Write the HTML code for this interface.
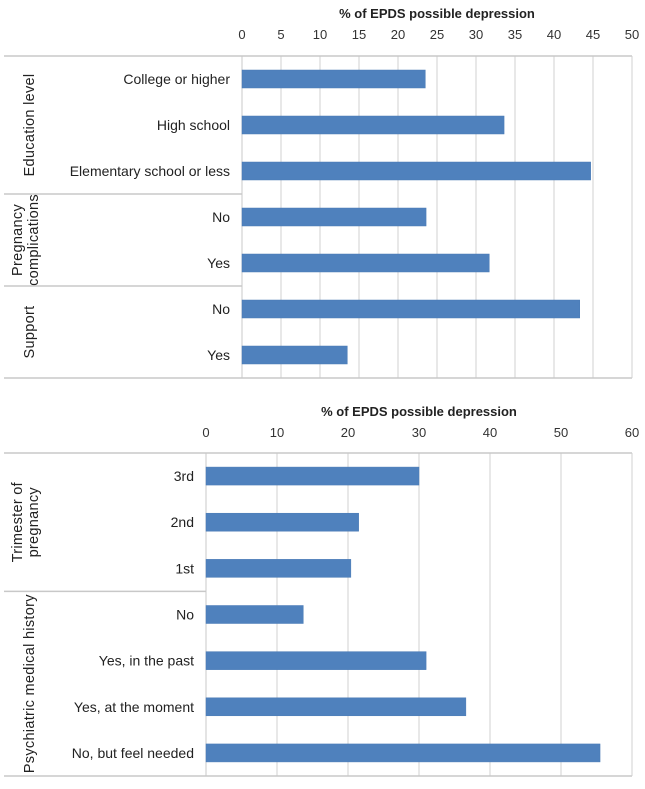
<!DOCTYPE html>
<html><head><meta charset="utf-8"><style>
body{margin:0;background:#fff;width:645px;height:784px;overflow:hidden}
svg{font-family:"Liberation Sans",sans-serif;}
</style></head><body>
<svg id="c" width="645" height="784"></svg>
<script>
const topCats=["College or higher","High school","Elementary school or less","No","Yes","No","Yes"];
const topVals=[23.5,33.6,44.7,23.6,31.7,43.3,13.5];
const topTicks=[0,5,10,15,20,25,30,35,40,45,50];
const topGroups=["Education level","Pregnancy|complications","Support"];
const topGroupSizes=[3,2,2];
const botCats=["3rd","2nd","1st","No","Yes, in the past","Yes, at the moment","No, but feel needed"];
const botVals=[30.0,21.5,20.4,13.7,31.0,36.6,55.5];
const botTicks=[0,10,20,30,40,50,60];
const botGroups=["Trimester of|pregnancy","Psychiatric medical history"];
const botGroupSizes=[3,4];
const NS="http://www.w3.org/2000/svg";
const svg=document.getElementById('c');
function mk(t,a,p){const e=document.createElementNS(NS,t);for(const k in a)e.setAttribute(k,a[k]);(p||svg).appendChild(e);return e;}
function chart(id,cats,vals,ticks,groups,sizes,x0,x1,titleY,tickY,top,bot){
  const g=mk('g',{});
  
  
  const max=ticks[ticks.length-1];
  const xs=v=>x0+(x1-x0)*v/max;
  const rh=(bot-top)/cats.length;
  const t=mk('text',{x:(x0+x1)/2,y:titleY,'text-anchor':'middle','font-size':13,'font-weight':'bold',fill:'#222'},g);
  t.textContent='% of EPDS possible depression';
  
  
  ticks.forEach(v=>{
    const x=xs(v);
    if(v>0){const l=mk('line',{x1:x,x2:x,y1:top,y2:bot,stroke:'#d0d0d0','stroke-width':1},g);
      
      }
    const tt=mk('text',{x:x,y:tickY,'text-anchor':'middle','font-size':13,fill:'#333'},g);
    tt.textContent=v;
    
    
  });
  mk('line',{x1:4,x2:x1,y1:top,y2:top,stroke:'#c8c8c8','stroke-width':1.5},g);
  mk('line',{x1:4,x2:x1,y1:bot,y2:bot,stroke:'#c8c8c8','stroke-width':1.5},g);
  mk('line',{x1:x1,x2:x1,y1:top,y2:bot,stroke:'#d0d0d0','stroke-width':1},g);
  mk('line',{x1:x0,x2:x0,y1:top,y2:bot,stroke:'#c8c8c8','stroke-width':1},g);
  cats.forEach((c,i)=>{
    const cy=top+rh*(i+0.5);
    const b=mk('rect',{x:x0,y:cy-9,width:xs(vals[i])-x0,height:18,fill:'#4f81bd',stroke:'#4a7ab5','stroke-width':0.5},g);
    
    
    const l=mk('text',{x:x0-12,y:cy+5,'text-anchor':'end','font-size':14,fill:'#222'},g);
    l.textContent=c;
    
    
  });
  let start=0;
  groups.forEach((gn,k)=>{
    const y0=top+start*rh, y1=top+(start+sizes[k])*rh;
    if(k>0)mk('line',{x1:4,x2:x0,y1:y0,y2:y0,stroke:'#c8c8c8','stroke-width':1.5},g);
    const lines=gn.split('|');
    const cy=(y0+y1)/2;
    lines.forEach((ln,j)=>{
      const x=lines.length===1?34:22+j*16;
      const tx=mk('text',{x:x,y:cy,'text-anchor':'middle','font-size':14.5,fill:'#222',transform:`rotate(-90 ${x} ${cy})`,'letter-spacing':'0.3'},g);
      tx.textContent=ln;
      
      
    });
    start+=sizes[k];
  });
}
chart('top-chart',topCats,topVals,topTicks,topGroups,topGroupSizes,242,632,18,39,56,378);
chart('bottom-chart',botCats,botVals,botTicks,botGroups,botGroupSizes,206,632,416,437,453,776);
</script>
</body></html>
